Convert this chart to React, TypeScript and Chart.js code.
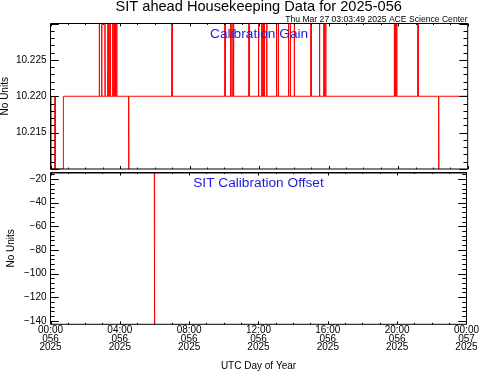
import React, { useEffect, useRef } from "react";
import { Chart, registerables } from "chart.js";

Chart.register(...registerables);

// ---------------- DATA ----------------
// Calibration Gain samples (UTC hour of day 056, value)
const gainHours = [
  0.000, 0.020, 0.250, 0.260, 0.270, 0.730, 0.740,
  2.795, 2.807, 2.819,
  2.933, 2.945, 2.957,
  3.123, 3.135, 3.147,
  3.296, 3.308, 3.320,
  3.411, 3.423, 3.435,
  3.566, 3.578, 3.590,
  3.641, 3.653, 3.665,
  3.727, 3.739, 3.751,
  3.796, 3.808, 3.820,
  4.487, 4.499, 4.511,
  6.978, 6.990, 7.002,
  10.027, 10.039, 10.051,
  10.343, 10.355, 10.367,
  10.429, 10.441, 10.453,
  10.516, 10.528, 10.540,
  11.407, 11.419, 11.431,
  11.954, 11.966, 11.978,
  12.138, 12.150, 12.162,
  12.213, 12.225, 12.237,
  12.288, 12.300, 12.312,
  12.426, 12.438, 12.450,
  12.989, 13.001, 13.013,
  13.093, 13.105, 13.117,
  13.680, 13.692, 13.704,
  13.783, 13.795, 13.807,
  14.013, 14.025, 14.037,
  14.974, 14.986, 14.998,
  15.463, 15.475, 15.487,
  15.722, 15.734, 15.746,
  15.820, 15.832, 15.844,
  19.766, 19.778, 19.790,
  19.835, 19.847, 19.859,
  19.904, 19.916, 19.928,
  21.129, 21.141, 21.153,
  22.320, 22.332, 22.344,
  24.000,
];
const gainValues = [
  10.220, 10.210, 10.210, 10.220, 10.210, 10.210, 10.220,
  10.220, 10.230, 10.220,
  10.220, 10.230, 10.220,
  10.220, 10.230, 10.220,
  10.220, 10.230, 10.220,
  10.220, 10.230, 10.220,
  10.220, 10.230, 10.220,
  10.220, 10.230, 10.220,
  10.220, 10.230, 10.220,
  10.220, 10.230, 10.220,
  10.220, 10.210, 10.220,
  10.220, 10.230, 10.220,
  10.220, 10.230, 10.220,
  10.220, 10.230, 10.220,
  10.220, 10.230, 10.220,
  10.220, 10.230, 10.220,
  10.220, 10.230, 10.220,
  10.220, 10.230, 10.220,
  10.220, 10.230, 10.220,
  10.220, 10.230, 10.220,
  10.220, 10.230, 10.220,
  10.220, 10.230, 10.220,
  10.220, 10.230, 10.220,
  10.220, 10.230, 10.220,
  10.220, 10.230, 10.220,
  10.220, 10.230, 10.220,
  10.220, 10.230, 10.220,
  10.220, 10.230, 10.220,
  10.220, 10.230, 10.220,
  10.220, 10.230, 10.220,
  10.220, 10.230, 10.220,
  10.220, 10.230, 10.220,
  10.220, 10.230, 10.220,
  10.220, 10.230, 10.220,
  10.220, 10.230, 10.220,
  10.220, 10.210, 10.220,
  10.220,
];

// Calibration Offset samples
const offsetHours = [0.0, 5.988, 6.0, 6.012, 24.0];
const offsetValues = [-15, -15, -150, -15, -15];

// Axis ticks / labels
const xTickHours = [0, 4, 8, 12, 16, 20, 24];
const xTimeLabels = ["00:00", "04:00", "08:00", "12:00", "16:00", "20:00", "00:00"];
const xDayLabels = ["056", "056", "056", "056", "056", "056", "057"];
const xYearLabels = ["2025", "2025", "2025", "2025", "2025", "2025", "2025"];
const gainTicks = [10.215, 10.22, 10.225];
const offsetTicks = [-140, -120, -100, -80, -60, -40, -20];

const TITLE = "SIT ahead Housekeeping Data for 2025-056";
const SUBTITLE = "Thu Mar 27 03:03:49 2025 ACE Science Center";
const GAIN_LABEL = "Calibration Gain";
const OFFSET_LABEL = "SIT Calibration Offset";
const Y_TITLE = "No Units";
const X_TITLE = "UTC Day of Year";

// ---------------- LAYOUT / STYLE ----------------
const W = 481;
const H = 371;
const FONT = "'Liberation Sans', Arial, Helvetica, sans-serif";
const PLOT_LEFT = 50.5;
const PLOT_RIGHT = 467.7;
const TOP_PANEL = { top: 23.5, bottom: 169 };
const BOT_PANEL = { top: 172.5, bottom: 324.3 };
const RED = "#ff0000";
const BLUE = "#1c1cd6";

const frameTicks = {
  id: "frameTicks",
  afterDatasetsDraw(chart: any, _args: any, opts: any) {
    const { ctx, chartArea: a, scales } = chart;
    const x = scales.x;
    const y = scales.y;
    const w = a.right - a.left;
    const h = a.bottom - a.top;
    const xMaj = 0.02 * h;
    const yMaj = 0.02 * w;
    ctx.save();
    ctx.strokeStyle = "#000";
    ctx.lineWidth = 1;
    ctx.beginPath();
    ctx.rect(a.left, a.top, w, h);
    const isMajor = (v: number, m: number) => Math.abs(v / m - Math.round(v / m)) < 1e-6;
    // x ticks (top and bottom)
    const xi0 = Math.ceil(x.min / opts.xMinor - 1e-6);
    const xi1 = Math.floor(x.max / opts.xMinor + 1e-6);
    for (let i = xi0; i <= xi1; i++) {
      const v = i * opts.xMinor;
      const px = Math.round(x.getPixelForValue(v)) + 0.5;
      const L = isMajor(v, opts.xMajor) ? xMaj : xMaj / 2;
      ctx.moveTo(px, a.bottom);
      ctx.lineTo(px, a.bottom - L);
      ctx.moveTo(px, a.top);
      ctx.lineTo(px, a.top + L);
    }
    // y ticks (left and right)
    const yi0 = Math.ceil(y.min / opts.yMinor - 1e-6);
    const yi1 = Math.floor(y.max / opts.yMinor + 1e-6);
    for (let i = yi0; i <= yi1; i++) {
      const v = i * opts.yMinor;
      const py = Math.round(y.getPixelForValue(v)) + 0.5;
      const L = isMajor(v, opts.yMajor) ? yMaj : yMaj / 2;
      ctx.moveTo(a.left, py);
      ctx.lineTo(a.left + L, py);
      ctx.moveTo(a.right, py);
      ctx.lineTo(a.right - L, py);
    }
    ctx.stroke();
    ctx.restore();
  },
};

const texts = {
  id: "texts",
  afterDraw(chart: any, _args: any, opts: any) {
    const { ctx } = chart;
    ctx.save();
    for (const t of opts.items || []) {
      ctx.font = `${t.size}px ${FONT}`;
      ctx.fillStyle = t.color;
      ctx.textAlign = t.align;
      ctx.textBaseline = "alphabetic";
      const xPos = t.x === "center" ? (chart.chartArea.left + chart.chartArea.right) / 2 : t.x;
      ctx.fillText(t.text, xPos, t.y);
    }
    ctx.restore();
  },
};

const minus = (s: string) => s.replace("-", "\u2212");

function yScale(min: number, max: number, ticks: number[], fmt: (v: number) => string, titlePad: number) {
  return {
    type: "linear",
    min,
    max,
    afterFit: (s: any) => {
      s.width = PLOT_LEFT;
    },
    afterBuildTicks: (s: any) => {
      s.ticks = ticks.map((v) => ({ value: v }));
    },
    grid: { display: false, drawTicks: false },
    border: { display: false },
    ticks: {
      padding: 4,
      color: "#000",
      font: { family: FONT, size: 10 },
      callback: (v: any) => fmt(Number(v)),
    },
    title: {
      display: true,
      text: Y_TITLE,
      color: "#000",
      font: { family: FONT, size: 10, lineHeight: 1 },
      padding: { top: titlePad, bottom: 0 },
    },
  };
}

export default function App() {
  const topRef = useRef<HTMLCanvasElement>(null);
  const botRef = useRef<HTMLCanvasElement>(null);

  useEffect(() => {
    const gainData = gainHours.map((h, i) => ({ x: h, y: gainValues[i] }));
    const offsetData = offsetHours.map((h, i) => ({ x: h, y: offsetValues[i] }));

    const c1 = new Chart(topRef.current as HTMLCanvasElement, {
      type: "line",
      data: {
        datasets: [
          {
            data: gainData,
            borderColor: RED,
            borderWidth: 1,
            pointRadius: 0,
            tension: 0,
            fill: false,
          },
        ],
      },
      options: {
        animation: false,
        responsive: false,
        devicePixelRatio: 1,
        events: [],
        layout: { padding: { top: TOP_PANEL.top, bottom: H - TOP_PANEL.bottom, left: 0, right: W - PLOT_RIGHT } },
        plugins: {
          legend: { display: false },
          tooltip: { enabled: false },
          frameTicks: { xMinor: 1, xMajor: 4, yMinor: 0.001, yMajor: 0.005 },
          texts: {
            items: [
              { text: TITLE, x: 258.7, y: 11, size: 14.6, color: "#000", align: "center" },
              { text: SUBTITLE, x: PLOT_RIGHT, y: 22.3, size: 8.6, color: "#000", align: "right" },
              { text: GAIN_LABEL, x: "center", y: 38, size: 13.7, color: BLUE, align: "center" },
            ],
          },
        } as any,
        scales: {
          x: { type: "linear", min: 0, max: 24, display: false },
          y: yScale(10.21, 10.23, gainTicks, (v) => v.toFixed(3), 0) as any,
        },
      },
      plugins: [frameTicks, texts],
    } as any);

    const c2 = new Chart(botRef.current as HTMLCanvasElement, {
      type: "line",
      data: {
        datasets: [
          {
            data: offsetData,
            borderColor: RED,
            borderWidth: 1,
            pointRadius: 0,
            tension: 0,
            fill: false,
          },
        ],
      },
      options: {
        animation: false,
        responsive: false,
        devicePixelRatio: 1,
        events: [],
        layout: { padding: { top: BOT_PANEL.top, bottom: 0, left: 0, right: W - PLOT_RIGHT } },
        plugins: {
          legend: { display: false },
          tooltip: { enabled: false },
          frameTicks: { xMinor: 1, xMajor: 4, yMinor: 4, yMajor: 20 },
          texts: {
            items: [{ text: OFFSET_LABEL, x: "center", y: 187.3, size: 13.7, color: BLUE, align: "center" }],
          },
        } as any,
        scales: {
          x: {
            type: "linear",
            min: 0,
            max: 24,
            afterFit: (s: any) => {
              s.height = H - BOT_PANEL.bottom;
            },
            afterBuildTicks: (s: any) => {
              s.ticks = xTickHours.map((v) => ({ value: v }));
            },
            grid: { display: false, drawTicks: false },
            border: { display: false },
            ticks: {
              padding: 2,
              maxRotation: 0,
              autoSkip: false,
              color: "#000",
              font: { family: FONT, size: 10, lineHeight: 0.85 },
              callback: (v: any) => {
                const i = xTickHours.indexOf(Number(v));
                return i < 0 ? "" : [xTimeLabels[i], xDayLabels[i], xYearLabels[i]];
              },
            },
            title: {
              display: true,
              text: X_TITLE,
              color: "#000",
              font: { family: FONT, size: 10, lineHeight: 1 },
              padding: { top: 0.5, bottom: 0 },
            },
          } as any,
          y: yScale(-143, -14.4, offsetTicks, (v) => minus(String(v)), 6.7) as any,
        },
      },
      plugins: [frameTicks, texts],
    } as any);

    return () => {
      c1.destroy();
      c2.destroy();
    };
  }, []);

  return (
    <div style={{ position: "fixed", left: 0, top: 0, width: W, height: H, background: "#fff" }}>
      <canvas ref={topRef} width={W} height={H} style={{ position: "absolute", left: 0, top: 0 }} />
      <canvas ref={botRef} width={W} height={H} style={{ position: "absolute", left: 0, top: 0 }} />
    </div>
  );
}
